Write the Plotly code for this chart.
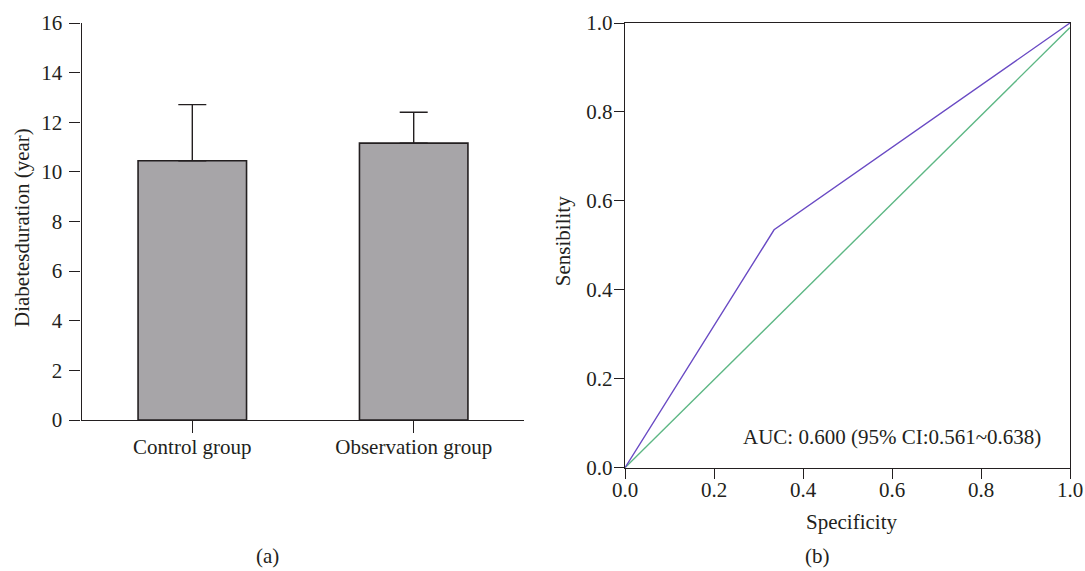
import plotly.graph_objects as go

# ---- data ----
categories = ["Control group", "Observation group"]
mean_years = [10.45, 11.16]
sd_years = [2.26, 1.24]

roc_specificity = [0.0, 0.335, 1.0]
roc_sensibility = [0.0, 0.535, 1.0]
ref_x = [0.0, 1.0]
ref_y = [0.0, 0.99]

y_ticks_a = [0, 2, 4, 6, 8, 10, 12, 14, 16]
ticks_b = [0.0, 0.2, 0.4, 0.6, 0.8, 1.0]
auc_text = "AUC: 0.600 (95% CI:0.561~0.638)"

# ---- style ----
W, H = 1085, 571
INK = "#231f20"
FONT = dict(family="Liberation Serif, Times New Roman, serif", size=21, color=INK)

def px(x):
    return x / W

def py(y):
    return 1 - y / H

fig = go.Figure()

fig.add_trace(go.Bar(
    x=categories, y=mean_years,
    width=0.49,
    marker=dict(color="#a7a5a8", line=dict(color=INK, width=1.6)),
    error_y=dict(type="data", array=sd_years, symmetric=False,
                 arrayminus=[0, 0], color=INK, thickness=1.4, width=14),
    xaxis="x", yaxis="y", showlegend=False,
))

fig.add_trace(go.Scatter(
    x=ref_x, y=ref_y, mode="lines",
    line=dict(color="#5db784", width=1.4),
    xaxis="x2", yaxis="y2", showlegend=False,
))
fig.add_trace(go.Scatter(
    x=roc_specificity, y=roc_sensibility, mode="lines",
    line=dict(color="#6a4bc4", width=1.4),
    xaxis="x2", yaxis="y2", showlegend=False,
))

axis_common = dict(showgrid=False, zeroline=False, showline=True,
                   linecolor=INK, linewidth=1.4, ticks="outside",
                   tickcolor=INK, tickwidth=1.4, tickfont=FONT,
                   automargin=False)

fig.update_layout(
    width=W, height=H,
    margin=dict(l=0, r=0, t=0, b=0, autoexpand=False),
    paper_bgcolor="white", plot_bgcolor="white",
    font=FONT,
    xaxis=dict(domain=[px(81.6), px(524.4)], type="category",
               range=[-0.5, 1.5], ticklen=12, anchor="y",
               ticklabelstandoff=-4, **axis_common),
    yaxis=dict(domain=[py(420), py(23)], range=[0, 16],
               tickvals=y_ticks_a, ticklen=11, anchor="x",
               ticklabelstandoff=3, **axis_common),
    xaxis2=dict(domain=[px(625), px(1070)], range=[0, 1],
                tickvals=ticks_b, tickformat=".1f", ticklen=10,
                mirror=True, anchor="y2", ticklabelstandoff=-7, **axis_common),
    yaxis2=dict(domain=[py(467.7), py(23)], range=[0, 1],
                tickvals=ticks_b, tickformat=".1f", ticklen=10,
                mirror=True, anchor="x2", ticklabelstandoff=-3, **axis_common),
)

ann = []
ann.append(dict(text="Diabetesduration (year)", xref="paper", yref="paper",
                x=px(21.5), y=py(227.5), textangle=-90, showarrow=False,
                xanchor="center", yanchor="middle", font=FONT))
ann.append(dict(text="Sensibility", xref="paper", yref="paper",
                x=px(562.5), y=py(241.7), textangle=-90, showarrow=False,
                xanchor="center", yanchor="middle", font=FONT))
ann.append(dict(text="Specificity", xref="paper", yref="paper",
                x=px(851), y=py(522), showarrow=False,
                xanchor="center", yanchor="middle", font=FONT))
ann.append(dict(text="(a)", xref="paper", yref="paper",
                x=px(267), y=py(556), showarrow=False,
                xanchor="center", yanchor="middle", font=FONT))
ann.append(dict(text="(b)", xref="paper", yref="paper",
                x=px(817), y=py(556), showarrow=False,
                xanchor="center", yanchor="middle", font=FONT))
ann.append(dict(text=auc_text, xref="x2", yref="y2",
                x=0.599, y=0.07, showarrow=False,
                xanchor="center", yanchor="middle", font=FONT))
fig.update_layout(annotations=ann)

fig.write_html(
    "out.html",
    config={"displayModeBar": False},
    post_script="document.body.style.margin='0';document.body.style.overflow='hidden';",
)
